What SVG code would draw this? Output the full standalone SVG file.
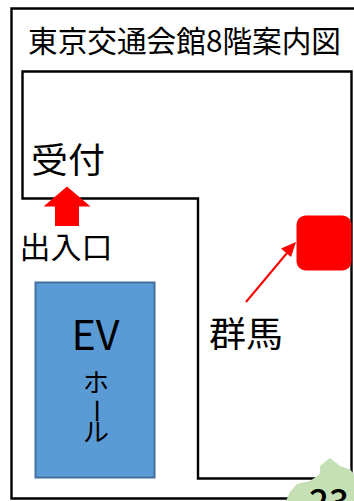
<svg xmlns="http://www.w3.org/2000/svg" width="354" height="501" viewBox="0 0 354 501">
<style>
text{font-family:"Noto Sans CJK JP","Liberation Sans",sans-serif;fill:#000}
.w{fill:none;stroke:#000;stroke-width:2.400}
</style>
<rect width="354" height="501" fill="#fff"/>
<g id="outer-frame"><path class="w" d="M354 8.500H11.500V498.500H354"/></g>
<g id="floor-outline"><path class="w" d="M351.500 71.500H22.500V198.500H198V478.500H351.500V71.500Z"/></g>
<g id="title"><text x="28" y="52" font-size="30" textLength="313" lengthAdjust="spacingAndGlyphs">東京交通会館8階案内図</text></g>
<g id="reception"><text x="31" y="173" font-size="35" textLength="74" lengthAdjust="spacingAndGlyphs">受付</text></g>
<g id="entrance"><path d="M67 186.500L90.500 206.500H79V226H55V206.500H43.500Z" fill="#f00"/><text x="19.500" y="258" font-size="30" textLength="93" lengthAdjust="spacingAndGlyphs">出入口</text></g>
<g id="ev-hall"><rect x="35.500" y="282.500" width="119" height="195" fill="#5b9bd5" stroke="#41719c" stroke-width="2"/><text x="95.500" y="350" font-size="41" text-anchor="middle" textLength="48" lengthAdjust="spacingAndGlyphs">EV</text><text x="96" y="392" font-size="26" text-anchor="middle">ホ</text><text x="96" y="420" font-size="26" text-anchor="middle" transform="rotate(90 96 411)">ー</text><text x="96" y="442" font-size="26" text-anchor="middle">ル</text></g>
<g id="gunma"><rect x="296.500" y="215.500" width="55" height="55" rx="9" fill="#f00"/><text x="209" y="347" font-size="35" textLength="74" lengthAdjust="spacingAndGlyphs">群馬</text></g>
<g id="connectors"><path d="M246 302L287 253" fill="none" stroke="#f00" stroke-width="2"/><path d="M296 242L281 248.500L291 257Z" fill="#f00"/></g>
<g id="badge"><path d="M354 501V474L350 469.500 340 466 330 458 320 466 320 474 310 481 297 484 290 492 286 501Z" fill="#c5e0b4"/><text x="309" y="514" font-size="35" font-weight="500">23</text></g>
</svg>
